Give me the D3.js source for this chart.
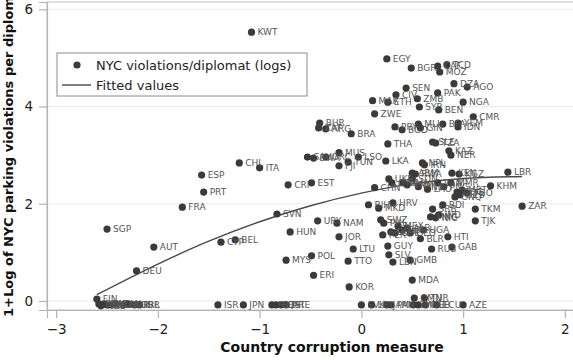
<!DOCTYPE html>
<html>
<head>
<meta charset="utf-8">
<script src="https://cdn.jsdelivr.net/npm/d3@7"></script>
<style>
  body { margin: 0; background: #fff; }
  text { font-family: "DejaVu Sans", sans-serif; }
</style>
</head>
<body>
<svg id="chart" width="573" height="360"></svg>
<script>
// country codes, corruption measure (x), 1+log violations per diplomat (y)
const codes = [
  "FIN","DNK","NZL","SWE","ISL","NLD","CAN","NOR","AUS","GBR","IRL",
  "SGP","AUT","DEU","FRA","ESP","PRT","CHL","ITA","KWT","CYP","BEL",
  "CRI","EST","SVN","HUN","MYS","URY","NAM","POL","JOR","LTU","TTO","ERI","KOR",
  "ISR","JPN","MLT","BHS","QAT","ARE",
  "BHR","ZAF","ARG","BRA","SAU","BWA","GRC","MUS","LSO","TUN","FJI","THA","LKA","ZWE",
  "EGY","BGR","CAF","MOZ","TCD","SEN","CIV","MAR","ETH","ZMB","SYR","PAK","BEN","DZA","AGO","NGA","CMR",
  "PRY","BGD","MLI","GIN","BFA","YEM","IDN","SLE","TZA","KAZ","NER","NPL","IRN",
  "ARM","RWA","KEN","KGZ","LBR","KHM","CHN",
  "UKR","GTM","GHA","VNM","SDN","HND","LAO","VEN","PNG","MMR","GNQ","COG","UZB","MRT","TGO",
  "BIH","MKD","HRV","BDI","SRB","MNG","IND","NIC","TKM","TJK","ZAR",
  "SWZ","PHL","MEX","BOL","COL","DOM","ALB","GEO","UGA","PER","BLR","HTI","RUS","GAB",
  "GUY","SLV","LBN","GMB","MDA",
  "SVK","LBY","JAM","PAN","SYC","OMN","MNE","TUR","CUB","ECU","AZE"
];
const corruption = [
  -2.60,-2.58,-2.56,-2.53,-2.50,-2.46,-2.41,-2.34,-2.29,-2.23,-2.18,
  -2.50,-2.04,-2.21,-1.76,-1.57,-1.55,-1.20,-1.00,-1.08,-1.38,-1.24,
  -0.72,-0.49,-0.83,-0.70,-0.74,-0.43,-0.24,-0.49,-0.22,-0.08,-0.13,-0.47,-0.12,
  -1.41,-1.16,-0.88,-0.84,-0.79,-0.74,
  -0.41,-0.42,-0.35,-0.10,-0.53,-0.47,-0.35,-0.22,-0.03,-0.13,-0.22,0.26,0.24,0.13,
  0.25,0.49,0.75,0.77,0.84,0.44,0.34,0.11,0.26,0.55,0.57,0.75,0.76,0.91,1.04,1.00,1.10,
  0.33,0.40,0.56,0.58,0.80,0.95,0.95,0.70,0.73,0.86,0.88,0.60,0.62,
  0.50,0.53,0.89,0.96,1.44,1.27,0.13,
  0.27,0.30,0.41,0.45,0.50,0.56,0.65,0.75,0.81,0.88,0.92,0.94,0.97,0.99,1.04,
  0.07,0.17,0.31,0.80,0.70,0.68,0.76,0.73,1.12,1.12,1.58,
  0.19,0.22,0.36,0.40,0.33,0.29,0.45,0.48,0.61,0.21,0.58,0.85,0.69,0.89,
  0.26,0.27,0.31,0.48,0.50,
  0.00,0.10,0.25,0.29,0.51,0.52,0.56,0.62,0.63,0.74,1.00
];
const violations = [
  0.04,-0.06,-0.10,-0.06,-0.08,-0.08,-0.06,-0.08,-0.07,-0.08,-0.08,
  1.48,1.11,0.62,1.93,2.59,2.24,2.84,2.74,5.53,1.21,1.26,
  2.39,2.43,1.79,1.42,0.84,1.65,1.60,0.93,1.32,1.07,0.82,0.53,0.29,
  -0.08,-0.08,-0.08,-0.08,-0.08,-0.08,
  3.66,3.56,3.54,3.44,2.96,2.94,2.96,3.05,2.96,2.86,2.78,3.23,2.88,3.85,
  4.98,4.79,4.83,4.71,4.86,4.38,4.24,4.12,4.09,4.16,3.99,4.28,3.93,4.47,4.40,4.09,3.79,
  3.58,3.52,3.64,3.56,3.64,3.66,3.58,3.27,3.25,3.09,3.00,2.84,2.80,
  2.63,2.61,2.63,2.61,2.65,2.37,2.33,
  2.51,2.43,2.43,2.39,2.51,2.35,2.30,2.43,2.35,2.43,2.14,2.24,2.18,2.28,2.22,
  1.98,1.91,2.02,1.98,1.89,1.73,1.77,1.71,1.89,1.65,1.95,
  1.67,1.60,1.54,1.46,1.40,1.42,1.50,1.40,1.46,1.36,1.28,1.32,1.07,1.11,
  1.13,0.95,0.80,0.84,0.43,
  -0.08,-0.08,-0.08,-0.08,-0.08,0.06,-0.08,0.06,-0.08,-0.08,-0.08
];

// fitted values
const fitX = [-2.60, -2.0, -1.5, -1.0, -0.5, 0.0, 0.5, 1.0, 1.58];
const fitY = [0.13, 0.76, 1.23, 1.63, 1.96, 2.22, 2.41, 2.52, 2.56];

const xTicks = [-3, -2, -1, 0, 1, 2];
const yTicks = [0, 2, 4, 6];

const svg = d3.select("#chart");
const W = 573, H = 360;
const plot = { left: 47, right: 573, top: 2, bottom: 310 };

const x = d3.scaleLinear().domain([-3.09, 2.08]).range([plot.left, plot.right]);
const y = d3.scaleLinear().domain([-0.185, 6.15]).range([plot.bottom, plot.top]);

svg.append("rect").attr("width", W).attr("height", H).attr("fill", "#fff");

// grid
svg.append("g").selectAll("line").data(yTicks).enter().append("line")
  .attr("x1", plot.left).attr("x2", plot.right)
  .attr("y1", d => y(d)).attr("y2", d => y(d))
  .attr("stroke", "#ebebeb").attr("stroke-width", 1);

// frame
svg.append("rect")
  .attr("x", plot.left).attr("y", plot.top)
  .attr("width", plot.right - plot.left + 2).attr("height", plot.bottom - plot.top)
  .attr("fill", "none").attr("stroke", "#c8c8c8").attr("stroke-width", 1.2);

// axes
const fmt = d3.format("d");
const xAxis = svg.append("g")
  .attr("transform", `translate(0,${plot.bottom})`)
  .call(d3.axisBottom(x).tickValues(xTicks).tickFormat(fmt).tickSize(8).tickPadding(6));
const yAxis = svg.append("g")
  .attr("transform", `translate(${plot.left},0)`)
  .call(d3.axisLeft(y).tickValues(yTicks).tickFormat(fmt).tickSize(8).tickPadding(6));

[xAxis, yAxis].forEach(g => {
  g.select(".domain").attr("stroke", "#b4b4b4").attr("stroke-width", 1.2);
  g.selectAll(".tick line").attr("stroke", "#b4b4b4").attr("stroke-width", 1.2);
  g.selectAll(".tick text").attr("fill", "#222").style("font-size", "13.5px")
    .style("font-family", "'DejaVu Sans', sans-serif");
});

// axis titles
svg.append("text")
  .attr("x", 332).attr("y", 352)
  .attr("text-anchor", "middle")
  .style("font-size", "14px").style("font-weight", "bold").attr("fill", "#111")
  .text("Country corruption measure");

svg.append("text")
  .attr("transform", "translate(13,317) rotate(-90)")
  .attr("text-anchor", "start")
  .style("font-size", "13px").style("font-weight", "bold").attr("fill", "#111")
  .text("1+Log of NYC parking violations per diplomat");

// fitted line
const fit = fitX.map((v, i) => [v, fitY[i]]);
svg.append("path")
  .datum(fit)
  .attr("fill", "none")
  .attr("stroke", "#4a4a4a")
  .attr("stroke-width", 1.4)
  .attr("d", d3.line().x(d => x(d[0])).y(d => y(d[1])).curve(d3.curveMonotoneX));

// points
const pts = codes.map((c, i) => ({ code: c, cx: corruption[i], cy: violations[i] }));

svg.append("g").selectAll("circle").data(pts).enter().append("circle")
  .attr("cx", d => x(d.cx)).attr("cy", d => y(d.cy))
  .attr("r", 3.6).attr("fill", "#3a3a3a");

svg.append("g").selectAll("text").data(pts).enter().append("text")
  .attr("x", d => x(d.cx) + 6).attr("y", d => y(d.cy))
  .attr("dy", "0.36em")
  .style("font-size", "9px").attr("fill", "#555")
  .text(d => d.code);

// legend
const lg = svg.append("g");
lg.append("rect").attr("x", 57).attr("y", 53).attr("width", 250).attr("height", 43)
  .attr("fill", "#fff").attr("stroke", "#8c8c8c").attr("stroke-width", 1);
lg.append("circle").attr("cx", 77).attr("cy", 65).attr("r", 3.6).attr("fill", "#3a3a3a");
lg.append("text").attr("x", 96).attr("y", 65).attr("dy", "0.36em")
  .style("font-size", "13px").attr("fill", "#222").text("NYC violations/diplomat (logs)");
lg.append("line").attr("x1", 62).attr("x2", 91).attr("y1", 85).attr("y2", 85)
  .attr("stroke", "#4a4a4a").attr("stroke-width", 1.4);
lg.append("text").attr("x", 96).attr("y", 85).attr("dy", "0.36em")
  .style("font-size", "13px").attr("fill", "#222").text("Fitted values");
</script>
</body>
</html>
